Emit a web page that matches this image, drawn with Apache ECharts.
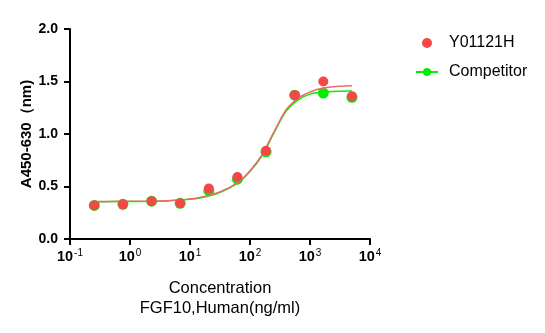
<!DOCTYPE html>
<html>
<head>
<meta charset="utf-8">
<script src="https://cdn.jsdelivr.net/npm/echarts@6/dist/echarts.min.js"></script>
<style>html,body{margin:0;padding:0;background:#fff;}#c{width:545px;height:333px;}</style>
</head>
<body>
<div id="c"></div>
<script>
// concentrations (ng/ml), 3-fold dilution series
const conc = [0.254, 0.762, 2.29, 6.86, 20.6, 61.7, 185, 556, 1667, 5000];
const y01121h = [0.32, 0.33, 0.36, 0.34, 0.48, 0.59, 0.84, 1.37, 1.50, 1.36];
const competitor = [0.32, 0.33, 0.36, 0.34, 0.46, 0.57, 0.83, 1.37, 1.39, 1.35];

// fitted curves
const fitX = [0.254, 0.5, 1, 2, 4, 8, 16, 32, 63, 100, 158, 251, 398, 631, 1000, 1585, 3162, 5000];
const fitY01121h = [0.357, 0.358, 0.359, 0.361, 0.365, 0.375, 0.40, 0.45, 0.54, 0.65, 0.80, 1.02, 1.23, 1.34, 1.40, 1.435, 1.455, 1.46];
const fitCompetitor = [0.355, 0.356, 0.357, 0.359, 0.363, 0.373, 0.396, 0.445, 0.535, 0.643, 0.793, 1.01, 1.215, 1.325, 1.38, 1.398, 1.408, 1.41];

const yTicks = [0, 0.5, 1.0, 1.5, 2.0];

const RED = '#F44848';
const GREEN = '#00EE00';
const FONT = 'Liberation Sans, Arial, sans-serif';

const pairs = (xs, ys) => xs.map((x, i) => [x, ys[i]]);

const chart = echarts.init(document.getElementById('c'));
chart.setOption({
  animation: false,
  backgroundColor: '#fff',
  grid: { left: 70, right: 175, top: 29, bottom: 94 },
  legend: {
    orient: 'vertical',
    left: 410,
    top: 29,
    itemGap: 11,
    itemWidth: 22,
    itemHeight: 10,
    textStyle: { fontFamily: FONT, fontSize: 16, color: '#000', lineHeight: 18, padding: [0, 0, 0, 6] },
    data: [
      { name: 'Y01121H', icon: 'circle' },
      { name: 'Competitor' }
    ]
  },
  xAxis: {
    type: 'log',
    logBase: 10,
    min: 0.1,
    max: 10000,
    name: 'Concentration\nFGF10,Human(ng/ml)',
    nameLocation: 'middle',
    nameGap: 39,
    nameMoveOverlap: false,
    nameTextStyle: { fontFamily: FONT, fontSize: 16.5, color: '#000', lineHeight: 20 },
    axisLine: { lineStyle: { color: '#000', width: 2 } },
    axisTick: { length: 6, lineStyle: { color: '#000', width: 2 } },
    splitLine: { show: false },
    minorTick: { show: false },
    axisLabel: {
      margin: 9,
      formatter: function (v) {
        const e = Math.round(Math.log10(v));
        return '{b|10}{s|' + (e < 0 ? '-' + (-e) : e) + '}';
      },
      rich: {
        b: { fontFamily: FONT, fontSize: 14.5, fontWeight: 'bold', color: '#000' },
        s: { fontFamily: FONT, fontSize: 10, color: '#000', padding: [0, 0, 8, 1] }
      }
    }
  },
  yAxis: {
    type: 'value',
    min: yTicks[0],
    max: yTicks[yTicks.length - 1],
    interval: 0.5,
    name: 'A450-630（nm)',
    nameLocation: 'middle',
    nameGap: 36,
    nameMoveOverlap: false,
    nameTextStyle: { fontFamily: FONT, fontSize: 15, fontWeight: 'bold', color: '#000' },
    axisLine: { show: true, lineStyle: { color: '#000', width: 2 } },
    axisTick: { show: true, length: 6, lineStyle: { color: '#000', width: 2 } },
    splitLine: { show: false },
    axisLabel: {
      margin: 12,
      fontFamily: FONT, fontSize: 14, fontWeight: 'bold', color: '#000',
      formatter: v => v.toFixed(1)
    }
  },
  series: [
    {
      name: 'Competitor',
      type: 'line',
      data: pairs(fitX, fitCompetitor),
      smooth: 0.3,
      symbol: 'circle',
      symbolSize: 10,
      showSymbol: false,
      itemStyle: { color: GREEN },
      lineStyle: { color: GREEN, width: 1.5 },
      z: 2
    },
    {
      name: 'Competitor pts',
      type: 'scatter',
      data: pairs(conc, competitor),
      symbolSize: 11,
      itemStyle: { color: GREEN, opacity: 1 },
      z: 3
    },
    {
      name: 'Y01121H fit',
      type: 'line',
      data: pairs(fitX, fitY01121h),
      smooth: 0.3,
      showSymbol: false,
      itemStyle: { color: RED },
      lineStyle: { color: '#F06A6A', width: 1.5 },
      z: 4
    },
    {
      name: 'Y01121H',
      type: 'scatter',
      data: pairs(conc, y01121h),
      symbolSize: 10,
      itemStyle: { color: RED, opacity: 1 },
      z: 5
    }
  ]
});
</script>
</body>
</html>
